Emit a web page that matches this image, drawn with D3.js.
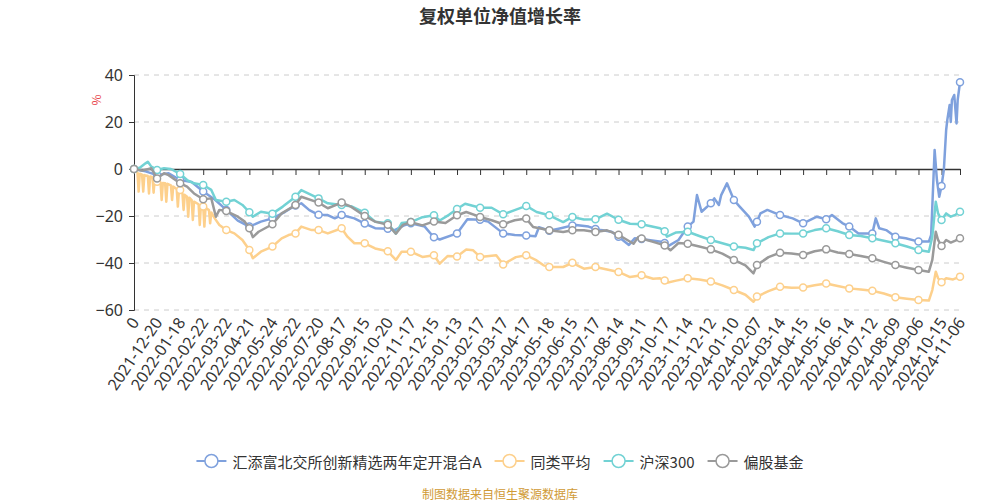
<!DOCTYPE html>
<html>
<head>
<meta charset="utf-8">
<script src="https://cdn.jsdelivr.net/npm/d3@7/dist/d3.min.js"></script>
<style>
  body { margin: 0; background: #fff; }
  svg { display: block; font-family: "Noto Sans CJK SC", "Noto Sans", sans-serif; }
</style>
</head>
<body>
<div id="chart"></div>
<script>
// x axis: trading-day index, labelled every 20 days + last day
const tickLabels = ["0", "2021-12-20", "2022-01-18", "2022-02-22", "2022-03-22", "2022-04-21", "2022-05-24",
  "2022-06-22", "2022-07-20", "2022-08-17", "2022-09-15", "2022-10-20", "2022-11-17", "2022-12-15",
  "2023-01-13", "2023-02-17", "2023-03-17", "2023-04-17", "2023-05-18", "2023-06-15", "2023-07-17",
  "2023-08-14", "2023-09-11", "2023-10-17", "2023-11-14", "2023-12-12", "2024-01-10", "2024-02-07",
  "2024-03-14", "2024-04-15", "2024-05-16", "2024-06-14", "2024-07-12", "2024-08-09", "2024-09-06",
  "2024-10-15", "2024-11-06"];
const labelStep = 20;
const lastIndex = 716;
const yTicks = [-60, -40, -20, 0, 20, 40];

const seriesNames = ["汇添富北交所创新精选两年定开混合A", "同类平均", "沪深300", "偏股基金"];
const seriesColors = ["#7fa1dd", "#fdd08c", "#72d2d4", "#9a9a9a"];

// [day index, growth %]
const fundValues = [[0,0],[10,-1],[20,-2.6],[30,-1.8],[40,-4.7],[50,-5.5],[60,-9.6],[70,-13],[80,-17.4],[90,-22],
  [100,-24.5],[110,-22.4],[120,-21],[131,-18.2],[140,-15.5],[145,-14.6],[152,-17.5],[160,-19.5],[168,-19.6],[174,-21],
  [180,-19.6],[191,-21],[200,-23.2],[209,-25.2],[220,-25.4],[226,-26],[235,-23.8],[240,-23.1],[252,-24.5],[258,-28],
  [260,-29],[265,-30],[280,-27.4],[289,-21.4],[300,-21.6],[307,-22.4],[320,-27.4],[330,-28.1],[340,-28.3],[348,-28.6],
  [351,-24.8],[360,-26.3],[370,-25.2],[380,-24],[383,-23.8],[394,-24.5],[400,-25.5],[405,-26],[414,-26.7],[420,-28.8],
  [429,-32.3],[434,-29.5],[440,-29.8],[446,-30.2],[457,-31],[460,-31.5],[463,-32.8],[472,-30.2],[480,-24.5],[485,-22.4],
  [488,-11.1],[492,-18.2],[500,-14.6],[503,-12.5],[507,-15.3],[509,-11.1],[514,-6.1],[520,-13.2],[525,-16],[533,-20.3],
  [538,-24.5],[540,-22.4],[543,-18.9],[549,-17.4],[560,-19.6],[571,-21],[580,-23.1],[592,-20.3],[600,-21.4],[605,-19.6],
  [614,-23],[620,-24.5],[628,-27.4],[640,-27.4],[643,-21],[646,-25.2],[652,-26],[660,-28.8],[669,-29.5],[680,-30.9],
  [689,-30.9],[691,-28],[694,8.1],[696,-4.7],[698,-11.8],[700,-7.2],[702,-0.4],[704,16.6],[705,20.9],[707,27.2],
  [708,20],[709,29.4],[711,31.5],[713,19.4],[714,29.4],[716,36.9]];

const peerAvgValues = [[0,0],[3,-1.5],[4,-9.6],[5,-2],[7,-2.4],[8,-9.6],[9,-2.6],[12,-3],[13,-10.4],[14,-3.2],
  [16,-3.5],[17,-10.1],[18,-4],[20,-5.4],[23,-5.8],[24,-13.2],[25,-6],[27,-6.1],[28,-13.9],[29,-6.3],
  [32,-7],[33,-13.2],[34,-7.5],[37,-8.5],[38,-16],[39,-8.9],[40,-8.9],[42,-10.5],[43,-17.4],[44,-11],
  [46,-11.8],[47,-20.3],[48,-12.2],[50,-13.2],[51,-21.7],[52,-13.9],[56,-15],[57,-23.8],[58,-15.5],[60,-16],
  [61,-24.5],[62,-16.5],[65,-17.5],[66,-23.1],[67,-18.5],[70,-21],[74,-23.8],[80,-26],[87,-27.4],[94,-30.2],
  [100,-34.5],[103,-38],[110,-35.2],[120,-33],[128,-29.5],[134,-28.1],[140,-27.4],[145,-24.5],[154,-26],[160,-26],
  [168,-27.4],[180,-25.2],[185,-28.8],[191,-31.6],[200,-31.6],[209,-33.8],[220,-35],[227,-38.7],[232,-35.2],[240,-35.2],
  [250,-37.4],[260,-36.7],[265,-40.3],[272,-37],[280,-37.2],[288,-34.3],[294,-34.6],[300,-37.4],[314,-36.7],[320,-40.6],
  [331,-37.5],[340,-36.7],[349,-38.9],[355,-41],[360,-41.7],[372,-41.7],[380,-39.9],[390,-42.4],[400,-41.7],[410,-42.8],
  [420,-43.8],[430,-46],[440,-45.2],[450,-46.7],[456,-46.5],[460,-47.4],[462,-48.4],[470,-47.5],[480,-46.5],[490,-47],
  [500,-47.9],[510,-49.5],[520,-51.5],[530,-53.5],[537,-56.5],[540,-54.3],[550,-52],[560,-50.1],[570,-50.5],[580,-50.4],
  [590,-49.5],[600,-48.7],[610,-49.8],[620,-50.8],[630,-51.3],[640,-51.8],[650,-53],[660,-54.6],[670,-55.2],[680,-55.7],
  [689,-56],[692,-51.5],[695,-43.7],[697,-46.5],[700,-48.2],[704,-46.5],[710,-47],[716,-45.8]];

const hs300Values = [[0,0],[5,0.5],[10,2.4],[12,3.1],[15,1],[20,-0.4],[26,0.3],[32,0],[40,-2.1],[46,-4.7],
  [52,-6.1],[60,-6.8],[67,-8.9],[71,-13.2],[80,-13.9],[87,-13.2],[94,-15.3],[100,-18.4],[103,-20.3],[110,-18.2],
  [120,-19],[129,-16],[140,-11.8],[145,-9],[160,-12.5],[168,-14.6],[180,-15.3],[189,-16],[200,-18.6],[209,-22.4],
  [220,-23.1],[227,-27.5],[232,-23],[240,-22.6],[250,-20.5],[260,-19.7],[265,-21.9],[273,-19.5],[280,-17],[287,-14.8],
  [300,-16.5],[310,-16.5],[320,-19.3],[330,-17.5],[340,-15.7],[349,-18.3],[360,-19.7],[372,-22.6],[380,-20.4],[390,-21.5],
  [400,-21.4],[410,-19],[420,-21.6],[430,-23.3],[440,-23.5],[456,-25.2],[460,-26.5],[462,-28.8],[470,-27],[480,-26.7],
  [490,-28.5],[500,-30.2],[510,-31.6],[520,-33],[530,-33.5],[537,-34.5],[540,-31.6],[550,-29],[560,-27.4],[570,-27.5],
  [580,-27.4],[590,-26],[600,-25.2],[610,-26.5],[620,-28.1],[630,-28.5],[640,-29.5],[650,-30.5],[660,-31.6],[670,-33],
  [680,-34.5],[689,-35.2],[692,-28.8],[695,-13.9],[697,-18.9],[700,-21.7],[704,-18.9],[708,-20.3],[712,-19.5],[716,-18.2]];

const equityFundValues = [[0,0],[7,-0.7],[15,0.3],[20,-4],[26,-1.8],[30,-2.6],[40,-6.1],[46,-7.5],[52,-10.4],[60,-12.9],
  [67,-12.5],[71,-20.3],[74,-17.4],[80,-17.9],[90,-20.3],[96,-22.4],[100,-25.2],[103,-29],[108,-26.7],[120,-23.5],
  [128,-18.9],[140,-15.3],[145,-11.8],[160,-14.3],[168,-16.7],[180,-14.3],[188,-16],[200,-20],[209,-22.4],[220,-23.7],
  [227,-27.5],[233,-23.8],[240,-22.6],[250,-24],[260,-22.3],[270,-23],[280,-19.7],[288,-18.3],[300,-20.4],[310,-21.8],
  [320,-23.5],[330,-21.8],[340,-21.1],[346,-24.7],[360,-26.1],[372,-26.8],[380,-26.1],[390,-26.1],[400,-26.8],[410,-26.1],
  [420,-28],[433,-31.8],[437,-29],[440,-29.6],[450,-31],[460,-32.5],[465,-34.6],[472,-31.5],[480,-31.8],[490,-33],
  [500,-34.2],[510,-36],[520,-38.7],[530,-41],[537,-44.4],[540,-40.9],[550,-37.5],[560,-35.6],[570,-36],[580,-36.6],
  [590,-35],[600,-34.2],[610,-35.5],[620,-36.2],[630,-37],[640,-38],[650,-39.5],[660,-40.9],[670,-42],[680,-43],
  [689,-43.7],[692,-38.7],[695,-26.7],[697,-30.2],[700,-32.8],[704,-30.2],[708,-31.3],[712,-30.5],[716,-29.5]];

const allSeries = [fundValues, peerAvgValues, hs300Values, equityFundValues];

const width = 1000, height = 500;
const svg = d3.select("#chart").append("svg").attr("width", width).attr("height", height);

const x = d3.scaleLinear().domain([0, lastIndex]).range([134, 960]);
const y = d3.scaleLinear().domain([-60, 40]).range([310, 75]);
const tickIndex = tickLabels.map((d, i) => (i < tickLabels.length - 1 ? i * labelStep : lastIndex));

// title
svg.append("text")
  .attr("x", 500).attr("y", 15)
  .attr("text-anchor", "middle").attr("dominant-baseline", "central")
  .attr("font-size", 18).attr("font-weight", "bold").attr("fill", "#333")
  .text("复权单位净值增长率");

// unit
svg.append("text")
  .attr("transform", "translate(95,100) rotate(-90)")
  .attr("text-anchor", "middle").attr("dominant-baseline", "central")
  .attr("font-size", 12).attr("fill", "#e8474d")
  .text("%");

// dashed grid
svg.append("g")
  .selectAll("line")
  .data(yTicks.filter(d => d !== 0))
  .enter()
  .append("line")
  .attr("x1", 134).attr("x2", 960)
  .attr("y1", d => y(d)).attr("y2", d => y(d))
  .attr("stroke", "#ccc").attr("stroke-dasharray", "5,5");

// y axis
const yAxis = svg.append("g")
  .attr("transform", "translate(134,0)")
  .call(d3.axisLeft(y).tickValues(yTicks).tickSize(5).tickPadding(6).tickFormat(d3.format("d")));
yAxis.select(".domain").attr("stroke", "#333");
yAxis.selectAll(".tick line").attr("stroke", "#333");
yAxis.selectAll(".tick text").attr("font-size", 16).attr("fill", "#333")
  .attr("font-family", "Noto Sans, sans-serif");

// x axis on zero line
const xAxis = svg.append("g")
  .attr("transform", `translate(0,${y(0)})`)
  .call(d3.axisBottom(x).tickValues(tickIndex).tickSize(6).tickSizeOuter(0).tickFormat(""));
xAxis.select(".domain").attr("stroke", "#333").attr("stroke-width", 1.5);
xAxis.selectAll(".tick line").attr("stroke", "#333");

// x labels at the bottom
svg.append("g")
  .selectAll("text")
  .data(tickLabels)
  .enter()
  .append("text")
  .attr("transform", (d, i) => `translate(${x(tickIndex[i]) + 1},319) rotate(-56)`)
  .attr("text-anchor", "end")
  .attr("dominant-baseline", "central")
  .attr("font-size", 16)
  .attr("font-family", "Noto Sans, sans-serif")
  .attr("fill", "#333")
  .text(d => d);

// lines
const line = d3.line().x(d => x(d[0])).y(d => y(d[1]));

allSeries.forEach((values, k) => {
  const g = svg.append("g");
  g.append("path")
    .datum(values)
    .attr("d", line)
    .attr("fill", "none")
    .attr("stroke", seriesColors[k])
    .attr("stroke-width", 2.5)
    .attr("stroke-linejoin", "round");
  g.selectAll("circle")
    .data(values.filter(d => d[0] % labelStep === 0 || d[0] === lastIndex))
    .enter()
    .append("circle")
    .attr("cx", d => x(d[0]))
    .attr("cy", d => y(d[1]))
    .attr("r", 3.5)
    .attr("fill", "#fff")
    .attr("stroke", seriesColors[k])
    .attr("stroke-width", 1.5);
});

// legend
const legend = svg.append("g");
const items = legend.selectAll("g")
  .data(seriesNames)
  .enter()
  .append("g");
items.append("line")
  .attr("x1", 0).attr("x2", 30).attr("y1", 0).attr("y2", 0)
  .attr("stroke", (d, i) => seriesColors[i]).attr("stroke-width", 2);
items.append("circle")
  .attr("cx", 15).attr("cy", 0).attr("r", 6.5)
  .attr("fill", "#fff")
  .attr("stroke", (d, i) => seriesColors[i]).attr("stroke-width", 1.5);
items.append("text")
  .attr("x", 36).attr("y", 0)
  .attr("dominant-baseline", "central")
  .attr("font-size", 15).attr("fill", "#333")
  .text(d => d);

let offset = 0;
const widths = [];
items.each(function() {
  const w = 36 + d3.select(this).select("text").node().getComputedTextLength();
  widths.push(w);
});
const totalWidth = d3.sum(widths) + 13 * (widths.length - 1);
items.attr("transform", (d, i) => {
  const tx = offset;
  offset += widths[i] + 13;
  return `translate(${tx},0)`;
});
legend.attr("transform", `translate(${500 - totalWidth / 2},461)`);

// source note
svg.append("text")
  .attr("x", 500).attr("y", 493)
  .attr("text-anchor", "middle").attr("dominant-baseline", "central")
  .attr("font-size", 12).attr("fill", "#d09a35")
  .text("制图数据来自恒生聚源数据库");
</script>
</body>
</html>
